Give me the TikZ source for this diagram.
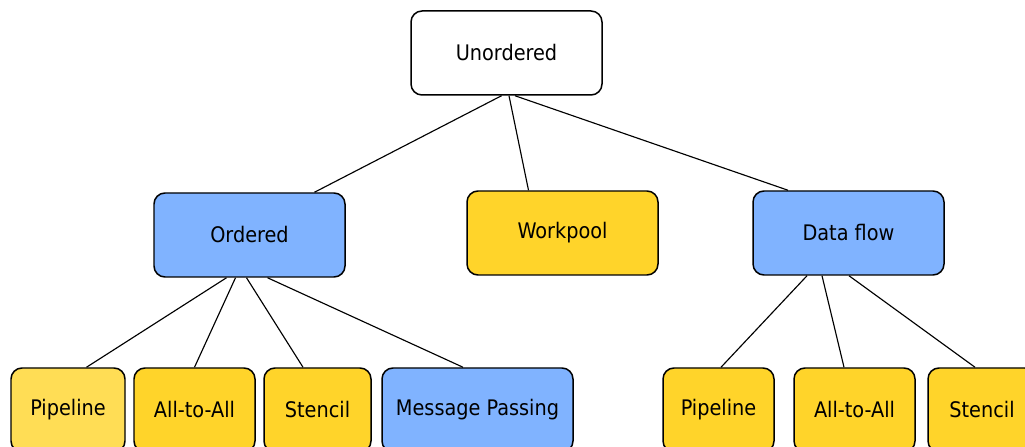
\documentclass[tikz,border=0pt]{standalone}
\usepackage{fontspec}
\setmainfont{DejaVu Sans Condensed}
\usepackage{tikz}
\definecolor{pblue}{HTML}{80B3FF}
\definecolor{pyel}{HTML}{FFD42A}
\definecolor{pyel2}{HTML}{FFDD55}
\tikzset{
    BX/.style ={rectangle,rounded corners=0.22cm,draw,line width=0.85pt,minimum height=1.68cm,font=\fontsize{12.2}{14}\selectfont},
    BW/.style ={BX,minimum width=3.82cm,fill=white},
    BB/.style ={BX,fill=pblue},
    BY/.style ={BX,fill=pyel},
    ED/.style ={line width=0.65pt}}
\begin{document}
\begin{tikzpicture}
        \useasboundingbox (0,0) rectangle (20.5,8.92);
        \node[BW] (u) at(10.13,7.86){Unordered};
        \node[BB,minimum width=3.82cm] (o) at(4.99,4.22){Ordered};
        \node[BY,minimum width=3.82cm] (w) at(11.25,4.26){Workpool};
        \node[BB,minimum width=3.82cm] (d) at(16.97,4.26){Data flow};
        \node[BY,fill=pyel2,minimum width=2.28cm] (p1) at(1.36,0.72){Pipeline};
        \node[BY,minimum width=2.42cm] (a1) at(3.89,0.72){All-to-All};
        \node[BY,minimum width=2.14cm] (s1) at(6.35,0.72){Stencil};
        \node[BB,minimum width=3.82cm] (m) at(9.55,0.72){Message Passing};
        \node[BY,minimum width=2.22cm] (p2) at(14.37,0.72){Pipeline};
        \node[BY,minimum width=2.42cm] (a2) at(17.09,0.72){All-to-All};
        \node[BY,minimum width=2.16cm] (s2) at(19.64,0.72){Stencil};
        \draw[ED] ([xshift=-0.1cm]u.south) --([xshift=1.3cm]o.north);
        \draw[ED] ([xshift=0.05cm]u.south) --([xshift=-0.68cm]w.north);
        \draw[ED] ([xshift=0.17cm]u.south) --([xshift=-1.21cm]d.north);
        \draw[ED] ([xshift=-0.46cm]o.south) --([xshift=0.37cm]p1.north);
        \draw[ED] ([xshift=-0.28cm]o.south) --(a1.north);
        \draw[ED] ([xshift=-0.06cm]o.south) --([xshift=-0.29cm]s1.north);
        \draw[ED] ([xshift=0.36cm]o.south) --([xshift=-0.29cm]m.north);
        \draw[ED] ([xshift=-0.83cm]d.south) --([xshift=0.05cm]p2.north);
        \draw[ED] ([xshift=-0.53cm]d.south) --([xshift=-0.21cm]a2.north);
        \draw[ED] ([xshift=0.01cm]d.south) --([xshift=-0.14cm]s2.north);
    \end{tikzpicture}
\end{document}
